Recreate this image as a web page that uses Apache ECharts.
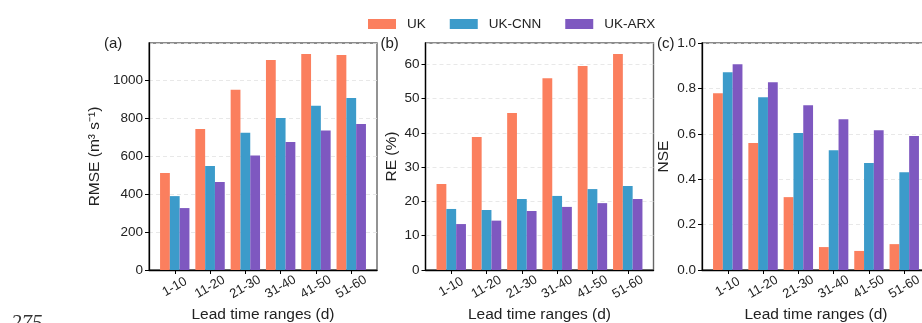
<!DOCTYPE html>
<html>
<head>
<meta charset="utf-8">
<script src="https://cdn.jsdelivr.net/npm/echarts@6/dist/echarts.min.js"></script>
<style>
  html, body { margin: 0; padding: 0; background: #fff; }
  #chart { width: 922px; height: 323px; }
</style>
</head>
<body>
<div id="chart"></div>
<script>
// lead time groups
var categories = ['1-10', '11-20', '21-30', '31-40', '41-50', '51-60'];
var seriesNames = ['UK', 'UK-CNN', 'UK-ARX'];

// (a) RMSE
var rmseUK = [510, 742, 949, 1105, 1137, 1132];
var rmseCNN = [389, 547, 723, 800, 865, 905];
var rmseARX = [326, 463, 603, 674, 735, 768];
// (b) RE (%)
var reUK = [25.1, 38.8, 45.8, 55.9, 59.5, 63.0];
var reCNN = [17.8, 17.5, 20.7, 21.6, 23.6, 24.5];
var reARX = [13.4, 14.4, 17.2, 18.4, 19.5, 20.7];
// (c) NSE
var nseUK = [0.779, 0.559, 0.321, 0.101, 0.084, 0.114];
var nseCNN = [0.871, 0.761, 0.603, 0.528, 0.471, 0.431];
var nseARX = [0.906, 0.827, 0.726, 0.664, 0.616, 0.590];

var yMaxes = [1195, 66.2, 1.0];
var yIntervals = [200, 10, 0.2];
var yNames = ['RMSE (m\u00b3 s\u207b\u00b9)', 'RE (%)', 'NSE'];
var panelTags = ['(a)', '(b)', '(c)'];

var colors = ['#FB7F5E', '#3C9BCA', '#7E58C0'];
var font = 'Liberation Sans, Arial, sans-serif';

var chart = echarts.init(document.getElementById('chart'));

var panelData = [
    [rmseUK, rmseCNN, rmseARX],
    [reUK, reCNN, reARX],
    [nseUK, nseCNN, nseARX]
];
var frameLefts = [149, 425.5, 702];
var frameWidth = 228, frameTop = 43, frameHeight = 227;
var pad = 8.1; // space between frame and first/last category band
var nameGaps = [46, 26, 30];

var grids = [], xAxes = [], yAxes = [], series = [], graphics = [];

panelData.forEach(function (data, p) {
    var fi = grids.length;
    // frame grid: box, y axis with labels, bottom line
    grids.push({
        left: frameLefts[p], top: frameTop, width: frameWidth, height: frameHeight,
        outerBoundsMode: 'none',
        show: true, borderColor: '#666', borderWidth: 1.4, backgroundColor: 'transparent'
    });
    // data grid: the six category bands
    grids.push({
        left: frameLefts[p] + pad, top: frameTop, width: frameWidth - 2 * pad, height: frameHeight,
        outerBoundsMode: 'none'
    });
    xAxes.push({
        gridIndex: fi, type: 'value', min: 0, max: 1,
        axisLine: { show: true, lineStyle: { color: '#000', width: 1.3 } },
        axisTick: { show: false }, axisLabel: { show: false }, splitLine: { show: false },
        name: 'Lead time ranges (d)', nameLocation: 'middle', nameGap: 37,
        nameTextStyle: { fontSize: 15.5, color: '#222', fontFamily: font }
    });
    xAxes.push({
        gridIndex: fi + 1, type: 'category', data: categories,
        axisLine: { show: false },
        axisTick: { show: true, alignWithLabel: true, length: 4, lineStyle: { color: '#000', width: 1 } },
        axisLabel: {
            interval: 0, rotate: 30, align: 'center', verticalAlign: 'middle', margin: 17,
            fontSize: 13, color: '#222', fontFamily: font
        }
    });
    yAxes.push({
        gridIndex: fi, type: 'value', min: 0, max: yMaxes[p], interval: yIntervals[p],
        axisLine: { show: true, lineStyle: { color: '#000', width: 1.3 } },
        axisTick: { show: true, length: 4, lineStyle: { color: '#000' } },
        axisLabel: {
            fontSize: 13.5, color: '#222', fontFamily: font, margin: 6, showMaxLabel: p === 2,
            formatter: function (v) {
                if (p === 2) return v.toFixed(1);
                return Math.round(v) + '';
            }
        },
        splitLine: { show: true, lineStyle: { color: '#e2e2e2', type: [4, 3], width: 0.8 } },
        name: yNames[p], nameLocation: 'middle', nameGap: nameGaps[p],
        nameTextStyle: { fontSize: 15.5, color: '#222', fontFamily: font }
    });
    yAxes.push({
        gridIndex: fi + 1, type: 'value', min: 0, max: yMaxes[p], show: false
    });
    data.forEach(function (vals, s) {
        series.push({
            name: seriesNames[s], type: 'bar',
            xAxisIndex: fi + 1, yAxisIndex: fi + 1,
            data: vals, barWidth: 9.8, barGap: '0%',
            itemStyle: { color: colors[s] },
            animation: false
        });
    });
    graphics.push({
        type: 'text', left: frameLefts[p] - 45, top: 36,
        style: { text: panelTags[p], fontSize: 15, fill: '#222', fontFamily: font }
    });
});

// page number fragment cut by the bottom edge
graphics.push({
    type: 'text', left: 11, top: 313,
    style: { text: '275', fontSize: 21, fontStyle: 'italic', fill: '#333', fontFamily: 'Liberation Serif, serif' }
});

var option = {
    animation: false,
    color: colors,
    textStyle: { fontFamily: font },
    legend: {
        data: seriesNames, left: 363, top: 12,
        icon: 'rect', itemWidth: 28, itemHeight: 10, itemGap: 24,
        textStyle: { fontSize: 13.5, color: '#222', fontFamily: font, padding: [0, 0, 0, 6] }
    },
    grid: grids,
    xAxis: xAxes,
    yAxis: yAxes,
    series: series,
    graphic: graphics
};
chart.setOption(option);
</script>
</body>
</html>
